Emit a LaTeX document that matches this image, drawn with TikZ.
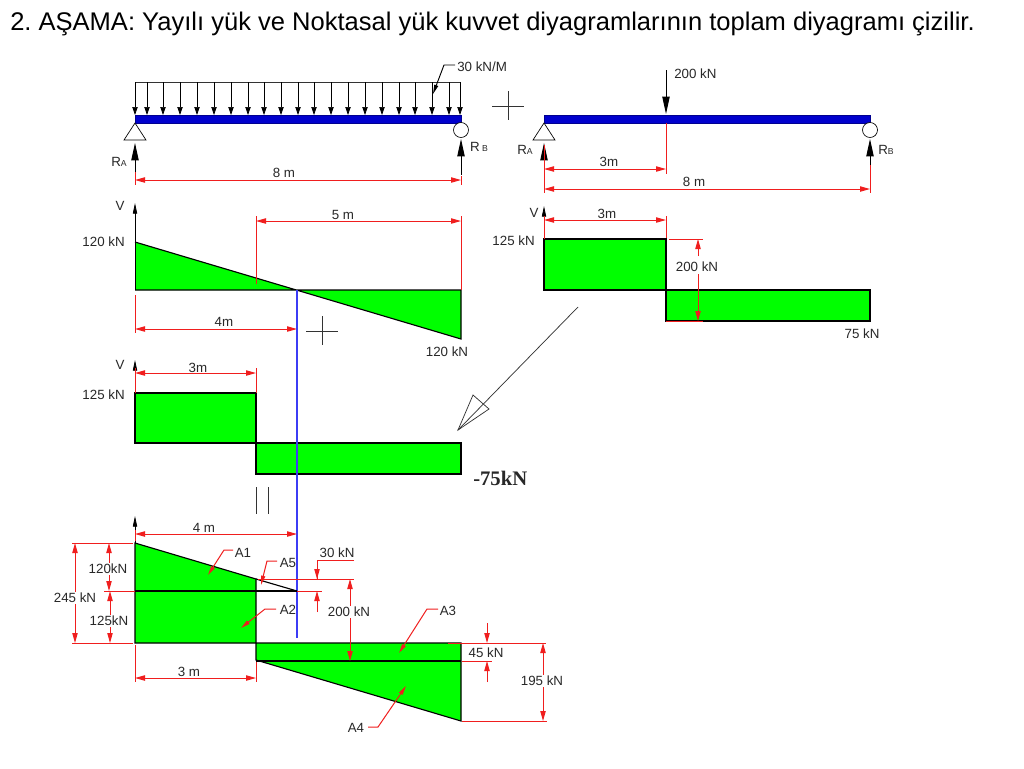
\documentclass[tikz,border=0pt]{standalone}
\usepackage{fontspec}
\setmainfont{Liberation Sans}
\newfontfamily\boldserif{Liberation Serif}
\usetikzlibrary{arrows.meta}
\definecolor{dimred}{RGB}{240,30,30}
\definecolor{beamblue}{RGB}{0,0,205}
\definecolor{sharegreen}{RGB}{0,255,0}
\definecolor{cutblue}{RGB}{60,60,245}
\definecolor{txtgray}{RGB}{40,40,40}
\tikzset{
  dimline/.style={dimred,line width=0.75pt},
  dimarr/.style={dimred,line width=0.75pt,{Stealth[length=7.5pt,width=4pt,inset=0pt]}-{Stealth[length=7.5pt,width=4pt,inset=0pt]}},
  dimend/.style={dimred,line width=0.75pt,-{Stealth[length=7.5pt,width=4pt,inset=0pt]}},
  leader/.style={dimred,line width=0.75pt,-{Stealth[length=7pt,width=3pt,inset=0pt]}},
  loadarr/.style={black,line width=0.55pt,-{Stealth[length=6pt,width=4pt,inset=0pt]}},
  bigarr/.style={black,line width=0.7pt,-{Stealth[length=13pt,width=5.5pt,inset=0pt]}},
  axisarr/.style={black,line width=0.6pt,-{Stealth[length=8pt,width=3.2pt,inset=0pt]}},
  beam/.style={fill=beamblue,draw=beamblue!70!black,line width=0.4pt},
  support/.style={draw=black,fill=white,line width=0.5pt},
  shear/.style={fill=sharegreen,draw=black,line width=0.85pt},
  outline/.style={black,line width=0.85pt},
  thin line/.style={black!80,line width=0.55pt},
  lbl/.style={inner sep=0pt,yshift=-0.7pt,font=\fontsize{10}{11}\selectfont,text=txtgray},
  lblw/.style={lbl,fill=white,inner sep=1pt},
}
\newcommand{\smallsub}[1]{{\fontsize{6.5}{6.5}\selectfont #1}}
\begin{document}
\begin{tikzpicture}[x=0.75pt,y=-0.75pt]
\fill[white] (0,0) rectangle (1024,768);
\useasboundingbox (0,0) rectangle (1024,768);

% title
\node[inner sep=0pt,anchor=west,font=\fontsize{19.15}{22}\selectfont\frenchspacing,text=black] (title) at (10,24)
  {2. AŞAMA: Yayılı yük ve Noktasal yük kuvvet diyagramlarının toplam diyagramı çizilir.};

% ---------- left beam
\draw[thin line] (135,82) -- (461,82);
\foreach \x in {135,147,163,180,197,214,231,248,264,281,298,314,331,348,365,382,399,415,432,449,460}
  \draw[loadarr] (\x,82) -- (\x,115);
\draw[beam] (135,115) rectangle (461,123);
\draw[support] (135,123) -- (124,140) -- (146,140) -- cycle;
\draw[support] (461,130) circle[radius=7.5];
\draw[bigarr] (135,175) -- (135,143);
\draw[bigarr] (461,175) -- (461,139);
\node[lbl] (ra1) at (119,161) {R\smallsub{A}};
\node[lbl] (rb1) at (479,146) {R\,\smallsub{B}};
\draw[dimline] (135,172) -- (135,185);
\draw[dimline] (461,176) -- (461,185);
\draw[dimarr] (135,180) -- (461,180);
\node[lbl] (d8a) at (284,172) {8 m};
\draw[black,line width=0.7pt,-{Stealth[length=7pt,width=3pt,inset=0pt]}] (455,65) -- (444,65) -- (433,94);
\node[lbl,anchor=west] (q) at (457,65.5) {30 kN/M};

% plus 1
\draw[thin line] (492,106) -- (524,106) (508,91) -- (508,120);

% ---------- right beam
\draw[beam] (544,115) rectangle (870,123);
\draw[support] (544,123) -- (533,140) -- (555,140) -- cycle;
\draw[support] (870,130) circle[radius=7.5];
\draw[bigarr] (544,162) -- (544,143);
\draw[bigarr] (870,166) -- (870,139);
\draw[bigarr] (666,70) -- (666,114);
\node[lbl,anchor=west] (p) at (674,73) {200 kN};
\node[lbl] (ra2) at (525,149) {R\smallsub{A}};
\node[lbl] (rb2) at (886,149) {R\smallsub{B}};
\draw[dimline] (666,123) -- (666,174);
\draw[dimline] (544,145) -- (544,193);
\draw[dimline] (870,165) -- (870,193);
\draw[dimarr] (544,169) -- (666,169);
\draw[dimarr] (544,189) -- (870,189);
\node[lbl] (d3a) at (609,161) {3m};
\node[lbl] (d8b) at (694,181) {8 m};

% ---------- shear 1 left
\fill[sharegreen] (135,242) -- (297,290) -- (135,290) -- cycle;
\fill[sharegreen] (297,290) -- (461,339) -- (461,290) -- cycle;
\draw[outline] (135,242) -- (461,339) -- (461,290) -- (135,290);
\draw[axisarr] (135,290) -- (135,203);
\node[lbl] (v1) at (120,205) {V};
\node[lbl,anchor=east] (v120a) at (125,241) {120 kN};
\node[lbl] (v120b) at (447,351) {120 kN};
\draw[dimline] (256,216) -- (256,284);
\draw[dimline] (461,216) -- (461,290);
\draw[dimarr] (256,221) -- (461,221);
\node[lbl] (d5) at (343,214) {5 m};
\draw[dimline] (135,295) -- (135,333);
\draw[dimarr] (135,329) -- (297,329);
\node[lbl] (d4a) at (224,321) {4m};
\draw[thin line] (306,331) -- (338,331) (322,316) -- (322,345);

% ---------- shear 1 right
\draw[shear] (544,239) rectangle (666,290);
\draw[shear] (666,290) rectangle (870,321);
\draw[axisarr] (544,230) -- (544,206);
\node[lbl] (v2) at (534,212) {V};
\node[lbl,anchor=east] (v125a) at (535,240) {125 kN};
\node[lbl] (v75) at (862,333) {75 kN};
\draw[dimline] (544,216) -- (544,239);
\draw[dimline] (666,216) -- (666,238);
\draw[dimarr] (544,220) -- (666,220);
\node[lbl] (d3b) at (607,213) {3m};
\draw[dimline] (669,239) -- (703,239);
\draw[dimline] (666,321) -- (703,321);
\draw[dimend] (698,256) -- (698,239);
\draw[dimend] (698,274) -- (698,321);
\node[lbl] (p200a) at (697,266) {200 kN};
\coordinate (arrowtail) at (578,307);
\coordinate (arrowtip) at (458,430);
\draw[thin line] (arrowtail) -- (arrowtip);
\draw[thin line] (arrowtip) -- (473,395) -- (489,409) -- cycle;

% ---------- shear 2
\draw[shear] (135,393) rectangle (256,443);
\draw[shear] (256,443) rectangle (461,474);
\draw[axisarr] (135,378) -- (135,360);
\node[lbl] (v3) at (120,364) {V};
\node[lbl,anchor=east] (v125b) at (125,394) {125 kN};
\draw[dimline] (135,368) -- (135,393);
\draw[dimline] (256,368) -- (256,393);
\draw[dimarr] (135,373) -- (256,373);
\node[lbl] (d3c) at (198,367) {3m};
\node[inner sep=0pt,anchor=west,font=\fontsize{15.5}{17}\selectfont\boldserif\bfseries,text=txtgray] (v75b) at (473,478) {-75kN};
\draw[thin line] (256,487) -- (256,514) (268,487) -- (268,514);
\draw[cutblue,line width=0.9pt] (297,290) -- (297,638);

% ---------- total diagram
\fill[sharegreen] (135,543) -- (256,579) -- (256,643) -- (135,643) -- cycle;
\fill[sharegreen] (256,643) -- (461,643) -- (461,721) -- (256,660) -- cycle;
\draw[outline] (135,543) -- (256,579) -- (256,643) -- (135,643) -- cycle;
\draw[outline] (256,643) -- (461,643) -- (461,721) -- (256,660) -- cycle;
\draw[outline] (135,591) -- (297,591);
\draw[outline] (256,579) -- (297,591);
\draw[outline] (256,661) -- (461,661);
\draw[axisarr] (135,543) -- (135,516);

\draw[dimline] (72,543) -- (133,543);
\draw[dimline] (72,643) -- (133,643);
\draw[dimline] (104,591) -- (135,591);
\draw[dimline] (297,591) -- (322,591);
\draw[dimline] (258,579) -- (354,579);
\draw[dimline] (135,530) -- (135,541);
\draw[dimarr] (135,534) -- (297,534);
\node[lbl] (d4b) at (204,527) {4 m};
\draw[dimline] (135,645) -- (135,682);
\draw[dimline] (256,662) -- (256,682);
\draw[dimarr] (135,678) -- (256,678);
\node[lbl] (d3d) at (189,671) {3 m};

\draw[dimarr] (75,543) -- (75,643);
\node[lblw] (v245) at (75,597) {245 kN};
\draw[dimarr] (109,543) -- (109,591);
\node[lblw] (v120c) at (108,568) {120kN};
\draw[dimarr] (110,591) -- (110,643);
\node[lblw] (v125c) at (109,620) {125kN};

\draw[dimline] (354,560) -- (317,560) -- (317,579);
\draw[dimend] (317,560) -- (317,579);
\draw[dimend] (317,612) -- (317,591);
\node[lbl] (v30) at (337,552) {30 kN};
\draw[dimarr] (350,579) -- (350,661);
\node[lblw] (v200) at (349,611) {200 kN};

\draw[dimend] (487,623) -- (487,643);
\draw[dimend] (487,682) -- (487,661);
\draw[dimline] (448,643) -- (546,643);
\draw[dimline] (462,661) -- (492,661);
\draw[dimline] (462,721) -- (547,721);
\node[lbl] (v45) at (486,652) {45 kN};
\draw[dimarr] (543,643) -- (543,721);
\node[lblw] (v195) at (542,680) {195 kN};

\draw[leader] (233,550) -- (224,550) -- (208,575);
\node[lbl] (a1) at (243,552) {A1};
\draw[leader] (277,561) -- (267,561) -- (261,585);
\node[lbl] (a5) at (288,562) {A5};
\draw[leader] (276,609) -- (265,609) -- (241,628);
\node[lbl] (a2) at (288,609) {A2};
\draw[leader] (438,609) -- (427,609) -- (399,653);
\node[lbl] (a3) at (448,610) {A3};
\draw[leader] (368,727) -- (378,727) -- (406,686);
\node[lbl] (a4) at (356,727) {A4};
\end{tikzpicture}
\end{document}
